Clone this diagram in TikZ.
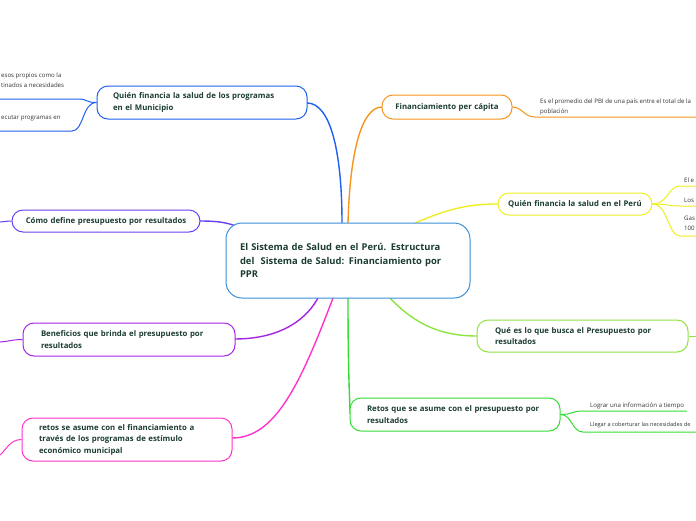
\documentclass[tikz,border=0pt]{standalone}
\usepackage{fontspec}
\setmainfont{Open Sans}
\definecolor{txt}{HTML}{1B3D2F}
\definecolor{leaf}{HTML}{333333}
\definecolor{cblue}{HTML}{2060F0}
\definecolor{corange}{HTML}{F7941D}
\definecolor{cyellow}{HTML}{EEEE22}
\definecolor{cygreen}{HTML}{8EE53F}
\definecolor{cgreen}{HTML}{33DD33}
\definecolor{cpblue}{HTML}{6A3FF5}
\definecolor{cpurple}{HTML}{A524E8}
\definecolor{cmag}{HTML}{FF33CC}
\definecolor{ccentral}{HTML}{3A8FD8}
\tikzset{
  branch/.style={draw, line width=1pt, fill=white, rounded corners=11pt, inner ysep=0pt,
    text=txt, font=\bfseries\fontsize{7.8}{11.5}\selectfont, align=left},
  central/.style={draw=ccentral, line width=1pt, fill=white, rounded corners=16pt, inner ysep=0pt,
    text=txt, font=\bfseries\fontsize{9.4}{13.5}\selectfont, align=left,
    minimum width=244pt, minimum height=75pt, inner xsep=14pt, text width=216pt},
  leaftext/.style={anchor=base west, inner sep=0pt, text=leaf, font=\fontsize{6.1}{9.5}\selectfont, align=left},
  conn/.style={line width=1.4pt},
  sub/.style={line width=1pt}
}
\begin{document}
\begin{tikzpicture}[x=1pt,y=-1pt]
\useasboundingbox (0,0) rectangle (696,520);
\clip (0,0) rectangle (696,520);
\fill[white] (0,0) rectangle (696,520);

% attachment points on the central node
\coordinate (cTa) at (342,223);
\coordinate (cTb) at (348,223);
\coordinate (cTc) at (415,223);
\coordinate (cBa) at (318,298);
\coordinate (cBb) at (333,298);
\coordinate (cBc) at (348,298);
\coordinate (cBd) at (390,298);
\coordinate (cL) at (236,226);

% connectors (drawn first)
\draw[conn, cblue] (cTa) .. controls (342,150) and (330,103) .. (307,103);
\draw[conn, corange] (cTb) .. controls (350,150) and (362,107) .. (382,107);
\draw[conn, cyellow] (cTc) .. controls (450,208) and (470,204) .. (498,204);
\draw[conn, cygreen] (cBd) .. controls (420,330) and (450,336) .. (477,336);
\draw[conn, cgreen] (cBc) .. controls (348,380) and (350,400) .. (350,414);
\draw[conn, cpblue] (cL) .. controls (225,222) and (215,221) .. (200,221);
\draw[conn, cpurple] (cBa) .. controls (300,330) and (265,339) .. (235,339);
\draw[conn, cmag] (cBb) .. controls (300,385) and (275,438) .. (232,438);

% central node
\node[central] (c) at (348,260.5) {El Sistema de Salud en el Perú. Estructura\\del\ \ Sistema de Salud: Financiamiento por\\PPR};

% branch nodes
\node[branch, draw=cblue, minimum width=210pt, minimum height=33pt, inner xsep=16pt, text width=178pt] (b1) at (202,102.5)
  {Quién financia la salud de los programas\\en el Municipio};
\node[branch, draw=corange, minimum width=130pt, minimum height=24pt, inner xsep=8pt, text width=114pt, align=center] (b2) at (447,107)
  {Financiamiento per cápita};
\node[branch, draw=cyellow, minimum width=154pt, minimum height=22pt, inner xsep=8pt, text width=138pt, align=center] (b3) at (575,204)
  {Quién financia la salud en el Perú};
\node[branch, draw=cygreen, minimum width=211pt, minimum height=32pt, inner xsep=18pt, text width=175pt] (b4) at (582.5,336)
  {Qué es lo que busca el Presupuesto por\\resultados};
\node[branch, draw=cgreen, minimum width=210pt, minimum height=33pt, inner xsep=17pt, text width=176pt] (b5) at (455,414.5)
  {Retos que se asume con el presupuesto por\\resultados};
\node[branch, draw=cpblue, minimum width=188pt, minimum height=22pt, inner xsep=8pt, text width=172pt, align=center] (b6) at (106,221)
  {Cómo define presupuesto por resultados};
\node[branch, draw=cpurple, minimum width=212pt, minimum height=33pt, inner xsep=18pt, text width=176pt] (b7) at (129,339.5)
  {Beneficios que brinda el presupuesto por\\resultados};
\node[branch, draw=cmag, minimum width=210pt, minimum height=43pt, inner xsep=17pt, text width=176pt] (b8) at (127,439.5)
  {retos se asume con el financiamiento a\\través de los programas de estímulo\\económico municipal};

% leaf texts (base anchor = last line)
\node[leaftext] (l1) at (1,87) {esos propios como la\\tinados a necesidades};
\node[leaftext] (l2) at (1,119) {ecutar programas en};
\node[leaftext] (l3) at (540,113) {Es el promedio del PBI de una país entre el total de la\\población};
\node[leaftext] (l4) at (684,182) {El e};
\node[leaftext] (l5) at (684,202) {Los};
\node[leaftext] (l6) at (684,230) {Gas\\100};
\node[leaftext] (l7) at (590,407) {Lograr una información a tiempo};
\node[leaftext, font=\fontsize{5.6}{9}\selectfont] (l8) at (590,426) {Llegar a coberturar las necesidades de};

% leaf connection points
\coordinate (u1) at (78,99);  \coordinate (u1e) at (0,99);
\coordinate (u2) at (72,131); \coordinate (u2e) at (0,131);
\coordinate (u3) at (535,117); \coordinate (u3e) at (696,117);
\coordinate (u4) at (680,186); \coordinate (u4e) at (696,186);
\coordinate (u5) at (680,206); \coordinate (u5e) at (696,206);
\coordinate (u6) at (680,236); \coordinate (u6e) at (696,236);
\coordinate (u7) at (583,411); \coordinate (u7e) at (687,411);
\coordinate (u8) at (583,432); \coordinate (u8e) at (696,432);
\coordinate (e4) at (696,336);
\coordinate (e6) at (0,222);
\coordinate (e7) at (0,342);
\coordinate (e8) at (0,455);

% leaf connectors
\draw[sub, cblue] (b1.west) .. controls (85,102.5) and (88,99) .. (u1) -- (u1e);
\draw[sub, cblue] (b1.west) .. controls (82,102.5) and (84,131) .. (u2) -- (u2e);
\draw[sub, corange] (b2.east) .. controls (522,107) and (524,117) .. (u3) -- (u3e);
\draw[sub, cyellow] (b3.east) .. controls (668,204) and (668,186) .. (u4) -- (u4e);
\draw[sub, cyellow] (b3.east) .. controls (668,204) and (668,206) .. (u5) -- (u5e);
\draw[sub, cyellow] (b3.east) .. controls (668,204) and (668,236) .. (u6) -- (u6e);
\draw[sub, cygreen] (b4.east) -- (e4);
\draw[sub, cgreen] (b5.east) .. controls (572,414.5) and (572,411) .. (u7) -- (u7e);
\draw[sub, cgreen] (b5.east) .. controls (572,414.5) and (572,432) .. (u8) -- (u8e);
\draw[sub, cpblue] (b6.west) .. controls (6,221) and (4,222) .. (e6);
\draw[sub, cpurple] (b7.west) .. controls (12,339.5) and (6,342) .. (e7);
\draw[sub, cmag] (b8.west) .. controls (10,439.5) and (6,450) .. (e8);
\end{tikzpicture}
\end{document}
